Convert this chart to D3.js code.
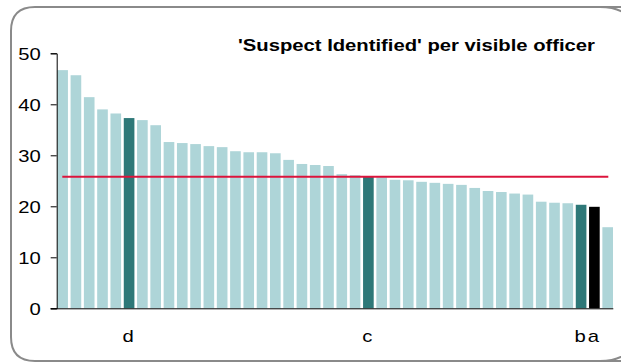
<!DOCTYPE html>
<html><head><meta charset="utf-8">
<script src="https://cdn.jsdelivr.net/npm/d3@7"></script>
<style>
html,body{margin:0;padding:0;background:#fff;overflow:hidden;}
svg{display:block;font-family:"Liberation Sans",Arial,sans-serif;}
</style></head>
<body>
<svg id="chart" width="621" height="363"></svg>
<script>
const title = "'Suspect Identified' per visible officer";
const values = [46.7,45.7,41.4,39.0,38.2,37.3,36.9,35.9,32.6,32.4,32.2,31.8,31.6,30.8,30.6,30.6,30.4,29.1,28.3,28.1,27.9,26.3,26.1,25.9,25.7,25.2,25.1,24.8,24.6,24.4,24.2,23.6,23.0,22.8,22.5,22.3,20.9,20.7,20.6,20.3,19.9,15.9];
const labels = values.map((v,i)=>({5:"d",23:"c",39:"b",40:"a"})[i] || "");
const kinds = values.map((v,i)=>i===40 ? "black" : ([5,23,39].includes(i) ? "dark" : "light"));
const average = 25.8;
const yTicks = [0,10,20,30,40,50];

const colors = {light:"#aed5d8", dark:"#2e7878", black:"#000000"};
const svg = d3.select("#chart");

svg.append("path")
  .attr("d","M 656 7 L 35 7 Q 11 7 11 31 L 11 337 Q 11 361 35 361 L 656 361")
  .attr("fill","none").attr("stroke","#8a8a8a").attr("stroke-width",2);
// right-side corners of frame (partially outside the view)
svg.append("path")
  .attr("d","M 600 7 Q 622 7 632 20 M 600 361 Q 622 361 632 348")
  .attr("fill","none").attr("stroke","#8a8a8a").attr("stroke-width",2);
svg.append("rect").attr("x",600).attr("y",0).attr("width",0).attr("height",0);

const idx = values.map((v,i)=>i);
const x = d3.scaleBand().domain(idx).range([57.3,613]).paddingInner(0.2).paddingOuter(0);
const y = d3.scaleLinear().domain([0,50]).range([308.3,53.3]);

svg.append("g").selectAll("rect").data(values).join("rect")
  .attr("x",(d,i)=>x(i)).attr("width",x.bandwidth())
  .attr("y",d=>y(d)).attr("height",d=>y(0)-y(d))
  .attr("fill",(d,i)=>colors[kinds[i]]);

// y axis
const yAxis = svg.append("g").attr("transform","translate(56.7,0)")
  .call(d3.axisLeft(y).tickValues(yTicks).tickSize(6).tickPadding(10).tickFormat(d3.format("d")));
yAxis.selectAll("text").attr("font-size",17).attr("fill","#000").attr("font-family","Liberation Sans, Arial, sans-serif").attr("dy","0.36em");
yAxis.select(".domain").attr("stroke","#000");
yAxis.selectAll(".tick line").attr("stroke","#000");

// x axis line
svg.append("line").attr("x1",50.7).attr("x2",613.3).attr("y1",y(0)+0.5).attr("y2",y(0)+0.5).attr("stroke","#000");

// average line
svg.append("line").attr("x1",62.3).attr("x2",608.3).attr("y1",y(average)).attr("y2",y(average))
  .attr("stroke","#dc143c").attr("stroke-width",2);

// category labels
svg.append("g").selectAll("text").data(labels).join("text")
  .attr("x",(d,i)=>x(i)+x.bandwidth()/2 - 1).attr("y",342)
  .attr("text-anchor","middle").attr("font-size",17).text(d=>d);

// title
svg.append("text").attr("x",595).attr("y",51).attr("text-anchor","end")
  .attr("font-size",17).attr("font-weight","bold").text(title);

// horizontal stretch of text to match reference
svg.selectAll("text").each(function(){
  const t = this; const len = t.getComputedTextLength();
  if (len>0) { t.setAttribute("textLength", (len*1.19).toFixed(1)); t.setAttribute("lengthAdjust","spacingAndGlyphs"); }
});
</script>
</body></html>
